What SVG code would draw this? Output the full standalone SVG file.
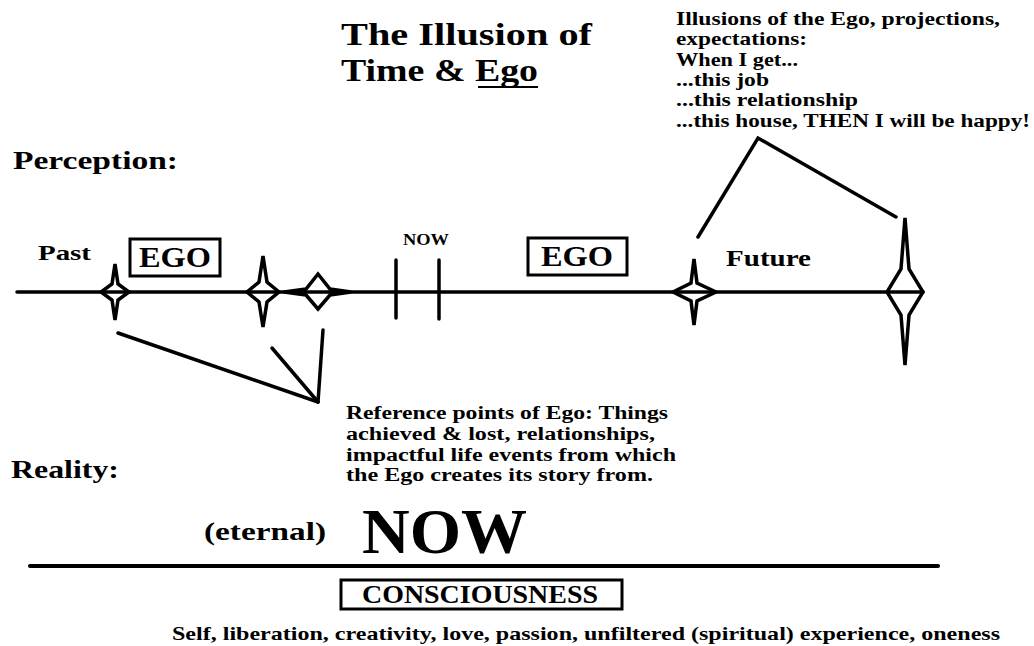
<svg xmlns="http://www.w3.org/2000/svg" width="1034" height="646" viewBox="0 0 1034 646">
<style>
text{font-family:"Liberation Serif","DejaVu Serif",serif;font-weight:bold;fill:#000}
.ln{stroke:#000;stroke-width:3.5;fill:none;stroke-linecap:round}
.star{stroke:#000;stroke-width:3.5;fill:none;stroke-linejoin:miter}
.box{stroke:#000;stroke-width:3;fill:#fff}
</style>
<rect width="1034" height="646" fill="#fff"/>
<g id="title">
<text x="341" y="45" font-size="32" textLength="251" lengthAdjust="spacingAndGlyphs">The Illusion of</text>
<text x="341" y="81" font-size="32" textLength="197" lengthAdjust="spacingAndGlyphs">Time &amp; Ego</text>
<line x1="478" y1="87" x2="538" y2="87" stroke="#000" stroke-width="2"/>
</g>
<g id="illusions">
<text font-size="19">
<tspan x="676" y="25" textLength="324" lengthAdjust="spacingAndGlyphs">Illusions of the Ego, projections,</tspan>
<tspan x="676" y="45" textLength="131" lengthAdjust="spacingAndGlyphs">expectations:</tspan>
<tspan x="676" y="66" textLength="122" lengthAdjust="spacingAndGlyphs">When I get...</tspan>
<tspan x="676" y="86" textLength="93" lengthAdjust="spacingAndGlyphs">...this job</tspan>
<tspan x="676" y="106" textLength="182" lengthAdjust="spacingAndGlyphs">...this relationship</tspan>
<tspan x="676" y="127" textLength="354" lengthAdjust="spacingAndGlyphs">...this house, THEN I will be happy!</tspan>
</text>
</g>
<g id="perception"><text x="13" y="169" font-size="25" textLength="165" lengthAdjust="spacingAndGlyphs">Perception:</text></g>
<g id="past"><text x="38" y="260" font-size="22" textLength="53" lengthAdjust="spacingAndGlyphs">Past</text></g>
<g id="ego1"><rect class="box" x="130" y="239" width="90" height="37"/><text x="175" y="267" font-size="30" text-anchor="middle" textLength="72" lengthAdjust="spacingAndGlyphs">EGO</text></g>
<g id="now-small"><text x="403" y="245" font-size="17" textLength="46" lengthAdjust="spacingAndGlyphs">NOW</text></g>
<g id="ego2"><rect class="box" x="528" y="238" width="99" height="37"/><text x="577" y="266" font-size="30" text-anchor="middle" textLength="72" lengthAdjust="spacingAndGlyphs">EGO</text></g>
<g id="future"><text x="726" y="266" font-size="23" textLength="85" lengthAdjust="spacingAndGlyphs">Future</text></g>
<g id="timeline">
<line class="ln" x1="17" y1="292" x2="923" y2="292"/>
<line class="ln" x1="396" y1="260" x2="396" y2="318"/>
<line class="ln" x1="439" y1="260" x2="439" y2="319"/>
</g>
<g id="star1"><polygon class="star" points="115,264 118,284 129,292 118,300 115,320 112,300 101,292 112,284"/></g>
<g id="star2"><polygon class="star" points="263,256 267,282 279,292 267,302 263,327 259,302 247,292 259,282"/></g>
<g id="star3"><polygon class="star" points="318,274 330,289 351,292 330,295 318,309 306,295 284,292 306,289"/></g>
<g id="star4"><polygon class="star" points="694,259 697,283 716,292 697,301 694,325 691,301 673,292 691,283"/></g>
<g id="star5"><polygon class="star" points="905,218 909,269 923,292 909,315 905,365 901,315 887,292 901,269"/></g>
<g id="connectors">
<line class="ln" x1="118" y1="333" x2="318" y2="402"/>
<line class="ln" x1="272" y1="348" x2="318" y2="402"/>
<line class="ln" x1="323" y1="330" x2="318" y2="402"/>
<polyline class="ln" points="698,237 758,138 896,217"/>
</g>
<g id="reference">
<text font-size="18">
<tspan x="346" y="419" textLength="322" lengthAdjust="spacingAndGlyphs">Reference points of Ego: Things</tspan>
<tspan x="346" y="440" textLength="309" lengthAdjust="spacingAndGlyphs">achieved &amp; lost, relationships,</tspan>
<tspan x="346" y="461" textLength="330" lengthAdjust="spacingAndGlyphs">impactful life events from which</tspan>
<tspan x="346" y="481" textLength="307" lengthAdjust="spacingAndGlyphs">the Ego creates its story from.</tspan>
</text>
</g>
<g id="reality"><text x="11" y="478" font-size="25" textLength="108" lengthAdjust="spacingAndGlyphs">Reality:</text></g>
<g id="eternal"><text x="204" y="540" font-size="25" textLength="122" lengthAdjust="spacingAndGlyphs">(eternal)</text></g>
<g id="now-big"><text x="362" y="553" font-size="64" textLength="165" lengthAdjust="spacingAndGlyphs">NOW</text></g>
<line x1="30" y1="566" x2="938" y2="566" stroke="#000" stroke-width="4" stroke-linecap="round"/>
<g id="consciousness"><rect class="box" x="341" y="580" width="281" height="29"/><text x="362" y="603" font-size="25" textLength="236" lengthAdjust="spacingAndGlyphs">CONSCIOUSNESS</text></g>
<g id="bottom"><text x="172" y="640" font-size="19" textLength="828" lengthAdjust="spacingAndGlyphs">Self, liberation, creativity, love, passion, unfiltered  (spiritual) experience, oneness</text></g>
</svg>
